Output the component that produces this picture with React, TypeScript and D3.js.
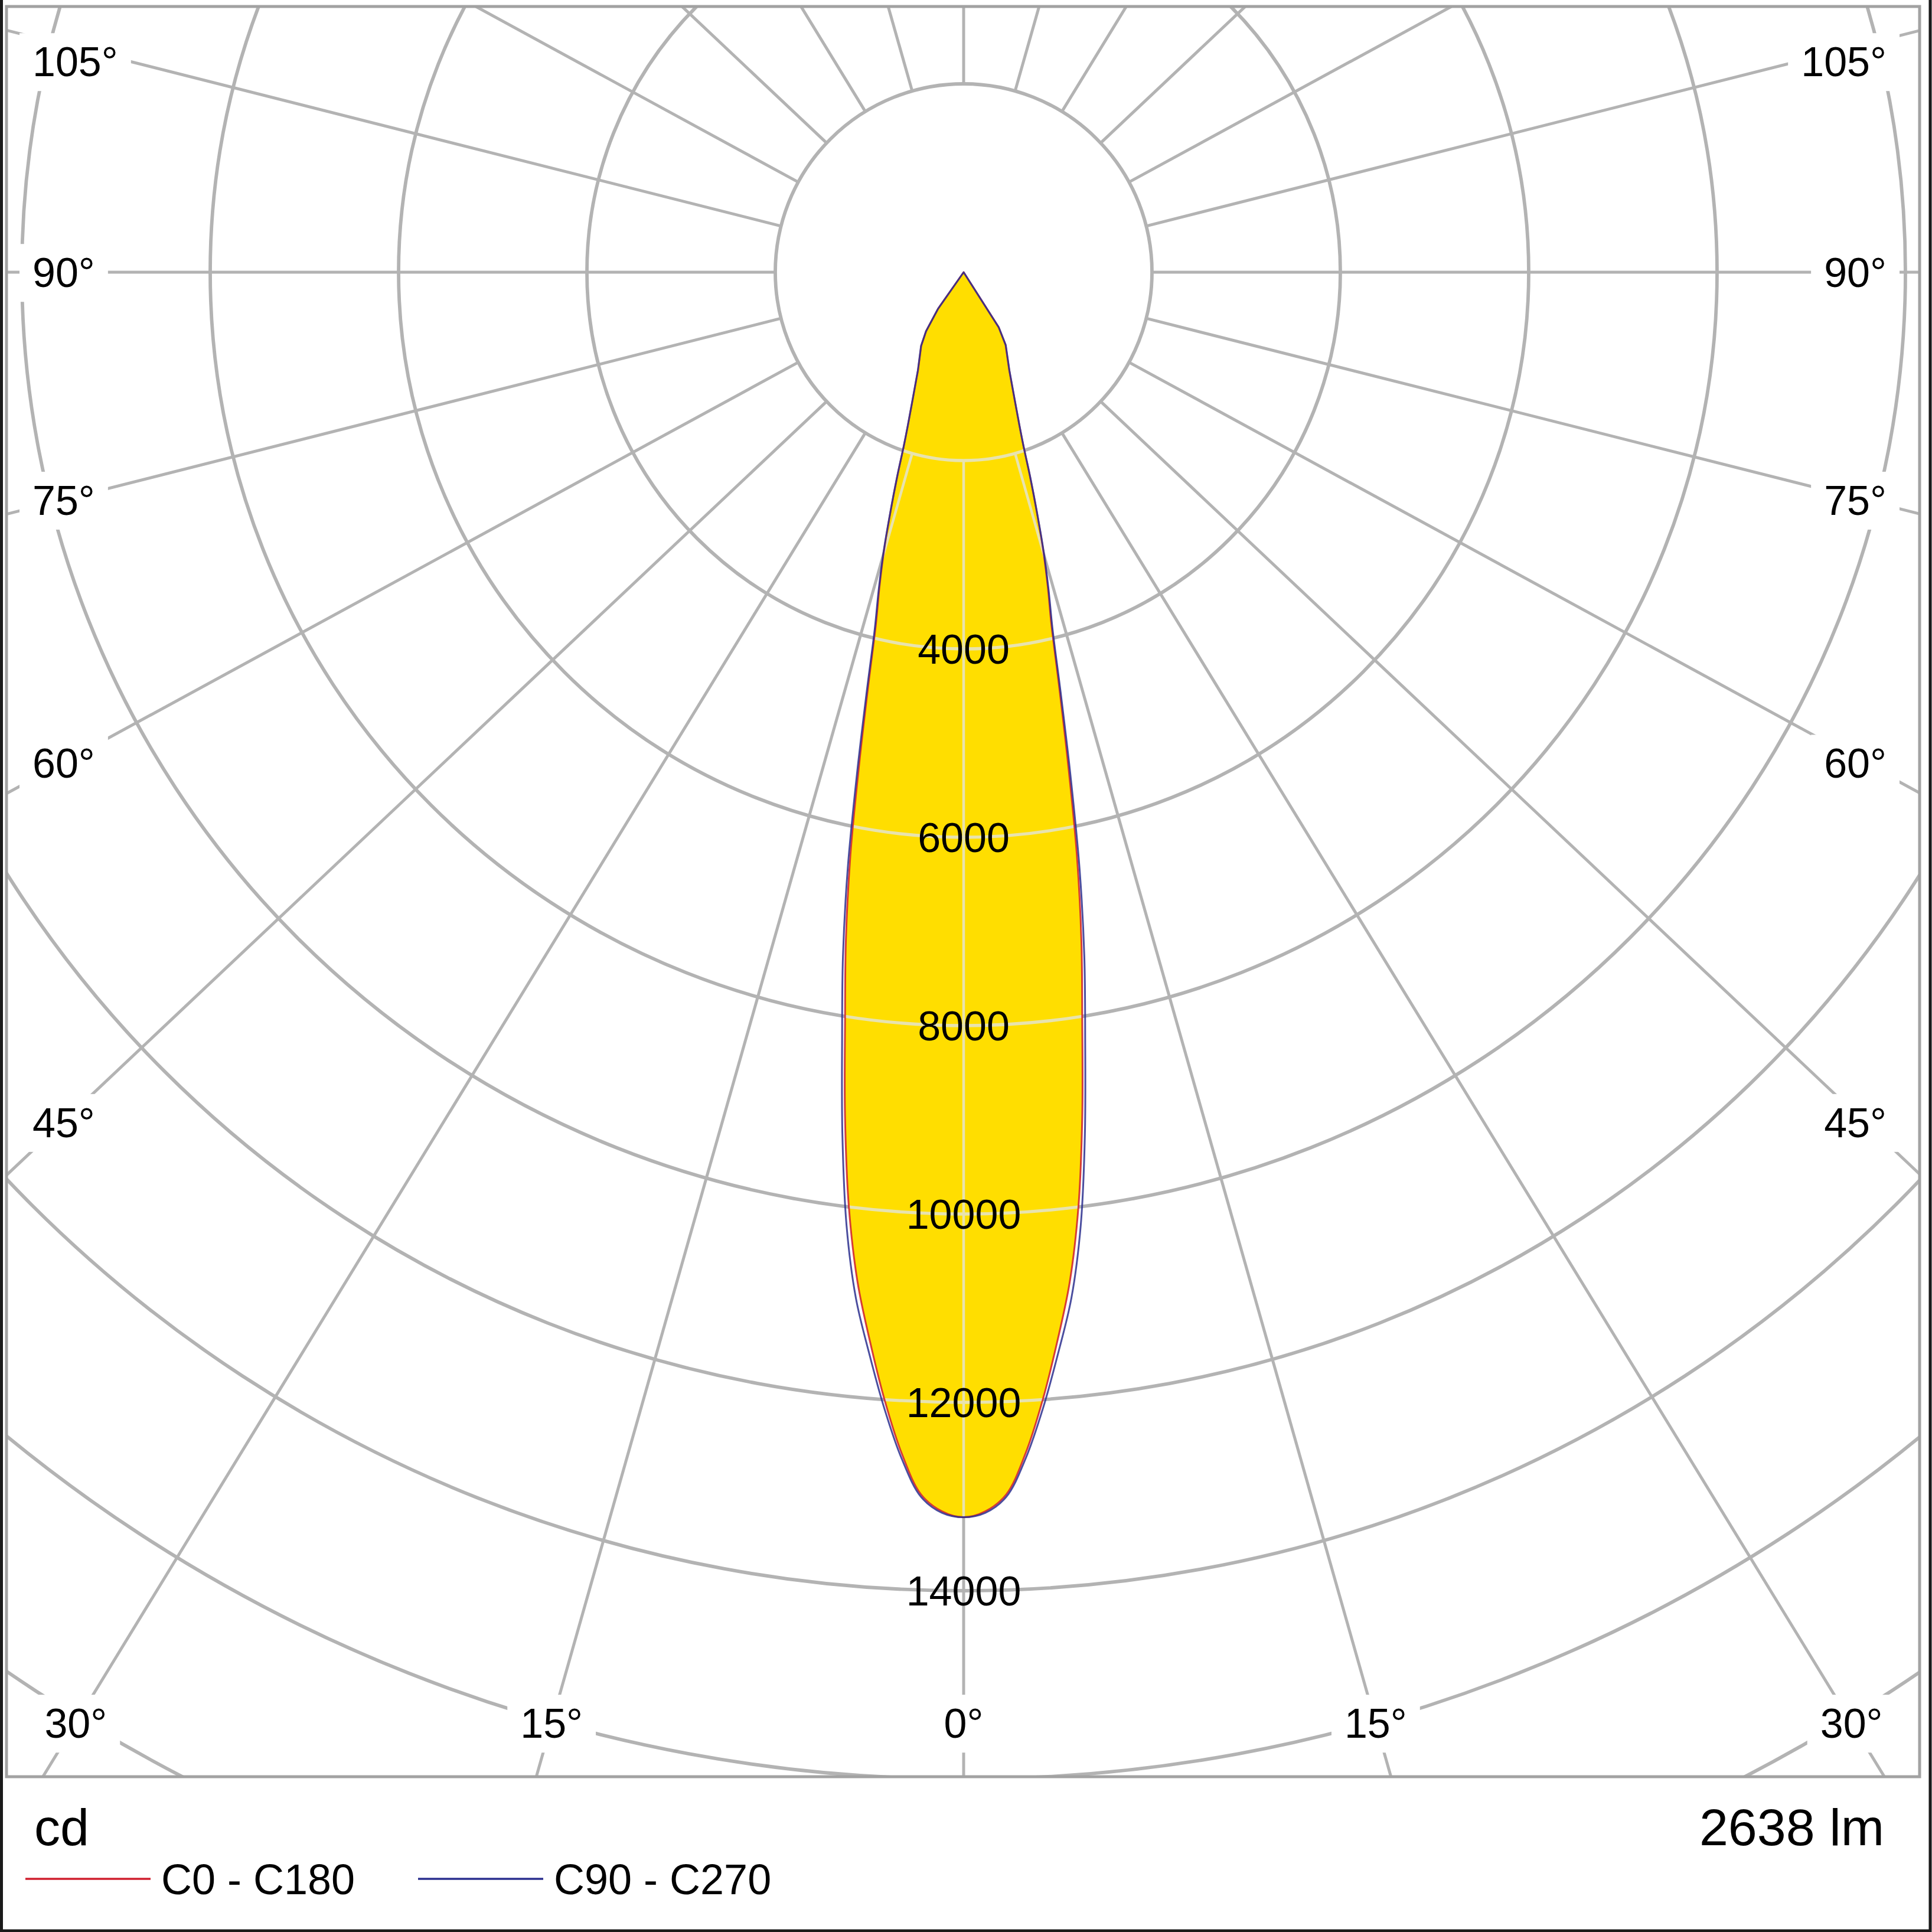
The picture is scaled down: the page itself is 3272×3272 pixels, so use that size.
import React, { useEffect, useRef } from 'react';
import * as d3 from 'd3';

// luminous intensity (cd) against gamma angle
const gammaAngles = [0, 1, 2, 3, 4, 5, 6, 7, 8, 9, 10, 11, 12, 13, 14, 15, 16, 17, 18, 19, 20, 25, 30, 32.5, 35, 37.5, 180];
const c0 = [13220, 13160, 12985, 12560, 12010, 11400, 10780, 10000, 9050, 8050, 7200, 6300, 5330, 4500, 3850, 3450, 3060, 2650, 2280, 1950, 1730, 1144, 890, 690, 0, 0, 0];
const c180 = [13220, 13160, 12985, 12560, 12010, 11400, 10780, 10000, 9050, 8050, 7200, 6300, 5330, 4500, 3850, 3450, 3060, 2650, 2280, 1950, 1730, 1144, 900, 740, 470, 0, 0];
const c90 = [13220, 13175, 13010, 12610, 12090, 11520, 10950, 10200, 9250, 8250, 7380, 6450, 5450, 4580, 3900, 3480, 3080, 2660, 2290, 1955, 1735, 1150, 895, 695, 0, 0, 0];
const c270 = [13220, 13175, 13010, 12610, 12090, 11520, 10950, 10200, 9250, 8250, 7380, 6450, 5450, 4580, 3900, 3480, 3080, 2660, 2290, 1955, 1735, 1150, 905, 745, 475, 0, 0];

const ringValues = [2000, 4000, 6000, 8000, 10000, 12000, 14000, 16000, 18000, 20000];
const ringLabels = [4000, 6000, 8000, 10000, 12000, 14000];
const angleTicks = [0, 15, 30, 45, 60, 75, 90, 105];
const gridAngles = d3.range(0, 360, 15);

const seriesNames = ['C0 - C180', 'C90 - C270'];
const seriesColors = ['#cf1f2e', '#2b2f8e'];
const unitLabel = 'cd';
const fluxLabel = '2638 lm';

const W = 3272;
const H = 3272;

const App: React.FC = () => {
    const svgRef = useRef<SVGSVGElement>(null);

    useEffect(() => {
        if (!svgRef.current) return;
        const svg = d3.select(svgRef.current);
        svg.selectAll('*').remove();

        const cx = 1632;
        const cy = 461;
        const frame = { x0: 11, y0: 11, x1: 3251, y1: 3009 };
        const stretch = 1.06; // radial spokes are drawn slightly widened
        const font = '"Liberation Sans", Arial, sans-serif';

        const r = d3.scaleLinear().domain([0, 2000]).range([0, 319]);
        const rad = (deg: number) => (deg * Math.PI) / 180;

        const pt = (g: number, v: number, side: number): [number, number] => [
            cx + side * r(v) * Math.sin(rad(g)),
            cy + r(v) * Math.cos(rad(g)),
        ];

        // smooth through the main beam, straight segments towards the tail
        const smooth = d3.line().curve(d3.curveCatmullRom.alpha(0.5));
        const outline = (right: number[], left: number[]) => {
            const split = gammaAngles.indexOf(25);
            const body: [number, number][] = [];
            for (let i = split; i >= 0; i--) body.push(pt(gammaAngles[i], right[i], 1));
            for (let i = 1; i <= split; i++) body.push(pt(gammaAngles[i], left[i], -1));
            const tail: [number, number][] = [];
            for (let i = split + 1; i < gammaAngles.length; i++) tail.push(pt(gammaAngles[i], left[i], -1));
            for (let i = gammaAngles.length - 1; i > split; i--) tail.push(pt(gammaAngles[i], right[i], 1));
            return smooth(body) + tail.map(p => `L${p[0]},${p[1]}`).join('') + 'Z';
        };
        const curves = [outline(c0, c180), outline(c90, c270)];

        svg.append('rect').attr('width', W).attr('height', H).attr('fill', '#fff');

        const defs = svg.append('defs');
        defs.append('clipPath').attr('id', 'frameClip')
            .append('rect')
            .attr('x', frame.x0).attr('y', frame.y0)
            .attr('width', frame.x1 - frame.x0).attr('height', frame.y1 - frame.y0);
        defs.append('clipPath').attr('id', 'beamClip')
            .append('path').attr('d', curves[0]);

        const drawGrid = (g: d3.Selection<SVGGElement, unknown, null, undefined>, color: string, w: number) => {
            g.selectAll('circle.ring')
                .data(ringValues)
                .enter()
                .append('circle')
                .attr('class', 'ring')
                .attr('cx', cx).attr('cy', cy)
                .attr('r', d => r(d))
                .attr('fill', 'none')
                .attr('stroke', color)
                .attr('stroke-width', w + 0.8);

            g.selectAll('line.spoke')
                .data(gridAngles)
                .enter()
                .append('line')
                .attr('class', 'spoke')
                .each(function (a) {
                    const dx = stretch * Math.sin(rad(a));
                    const dy = Math.cos(rad(a));
                    const len = Math.hypot(dx, dy);
                    const ux = dx / len;
                    const uy = dy / len;
                    d3.select(this)
                        .attr('x1', cx + ux * r(2000)).attr('y1', cy + uy * r(2000))
                        .attr('x2', cx + ux * 6000).attr('y2', cy + uy * 6000);
                })
                .attr('stroke', color)
                .attr('stroke-width', w);
        };

        const grid = svg.append('g').attr('clip-path', 'url(#frameClip)');
        drawGrid(grid, '#b3b3b3', 5);

        // beam fill
        svg.append('path').attr('d', curves[0]).attr('fill', '#ffde00');

        // grid seen through the beam
        const pale = svg.append('g').attr('clip-path', 'url(#beamClip)');
        drawGrid(pale, '#e8e3ae', 4.5);

        // curves
        curves.forEach((d, i) => {
            svg.append('path')
                .attr('d', d)
                .attr('fill', 'none')
                .attr('stroke', seriesColors[i])
                .attr('stroke-width', 3)
                .attr('stroke-linejoin', 'round')
                .attr('opacity', 0.85);
        });

        // ring values
        svg.selectAll('text.val')
            .data(ringLabels)
            .enter()
            .append('text')
            .attr('class', 'val')
            .attr('x', cx)
            .attr('y', d => cy + r(d))
            .attr('dy', '0.36em')
            .attr('text-anchor', 'middle')
            .style('font-family', font)
            .style('font-size', '70px')
            .style('fill', '#000')
            .text(d => d);

        // angle labels on the frame
        const inset = { left: 106, right: 2 * cx - 106, bottom: 2918, top: 104 };
        const labels: { text: string; x: number; y: number; anchor: string }[] = [];
        angleTicks.forEach(t => {
            const sides = t === 0 ? [1] : [-1, 1];
            sides.forEach(s => {
                const dx = s * stretch * Math.sin(rad(t));
                const dy = Math.cos(rad(t));
                const tx = dx !== 0 ? ((s < 0 ? inset.left : inset.right) - cx) / dx : Infinity;
                const ty = dy > 0 ? (inset.bottom - cy) / dy : Infinity;
                if (ty <= tx) {
                    labels.push({ text: `${t}°`, x: cx + dx * ty, y: inset.bottom, anchor: 'middle' });
                } else {
                    const y = Math.max(inset.top, cy + dy * tx);
                    labels.push({
                        text: `${t}°`,
                        x: s < 0 ? frame.x0 + 44 : frame.x1 - 56,
                        y,
                        anchor: s < 0 ? 'start' : 'end',
                    });
                }
            });
        });

        const lab = svg.selectAll('g.alabel')
            .data(labels)
            .enter()
            .append('g')
            .attr('class', 'alabel');
        const bg = lab.append('rect').attr('fill', '#fff');
        const txt = lab.append('text')
            .attr('x', d => d.x)
            .attr('y', d => d.y)
            .attr('dy', '0.36em')
            .attr('text-anchor', d => d.anchor)
            .style('font-family', font)
            .style('font-size', '70px')
            .style('fill', '#000')
            .text(d => d.text);
        txt.each(function (_, i) {
            const b = (this as SVGTextElement).getBBox();
            d3.select(bg.nodes()[i])
                .attr('x', b.x - 22).attr('y', b.y - 10)
                .attr('width', b.width + 44).attr('height', b.height + 20);
        });

        // frame
        svg.append('rect')
            .attr('x', frame.x0).attr('y', frame.y0)
            .attr('width', frame.x1 - frame.x0).attr('height', frame.y1 - frame.y0)
            .attr('fill', 'none')
            .attr('stroke', '#a2a2a2')
            .attr('stroke-width', 5);

        // image edge
        svg.append('path')
            .attr('d', `M2.5,0V${H - 2}H${W - 3}V0`)
            .attr('fill', 'none')
            .attr('stroke', '#1a1a1a')
            .attr('stroke-width', 5);

        // footer
        svg.append('text')
            .attr('x', 58).attr('y', 3125)
            .style('font-family', font).style('font-size', '88px').style('fill', '#000')
            .text(unitLabel);
        svg.append('text')
            .attr('x', 3191).attr('y', 3125)
            .attr('text-anchor', 'end')
            .style('font-family', font).style('font-size', '88px').style('fill', '#000')
            .text(fluxLabel);

        const legendX = [43, 708];
        seriesNames.forEach((name, i) => {
            svg.append('line')
                .attr('x1', legendX[i]).attr('x2', legendX[i] + 212)
                .attr('y1', 3182).attr('y2', 3182)
                .attr('stroke', seriesColors[i])
                .attr('stroke-width', 3.5);
            svg.append('text')
                .attr('x', legendX[i] + 230).attr('y', 3208)
                .style('font-family', font).style('font-size', '72px').style('fill', '#000')
                .text(name);
        });
    }, []);

    return (
        <svg
            ref={svgRef}
            width={W}
            height={H}
            style={{ position: 'absolute', left: 0, top: 0, display: 'block' }}
        ></svg>
    );
};

export default App;
